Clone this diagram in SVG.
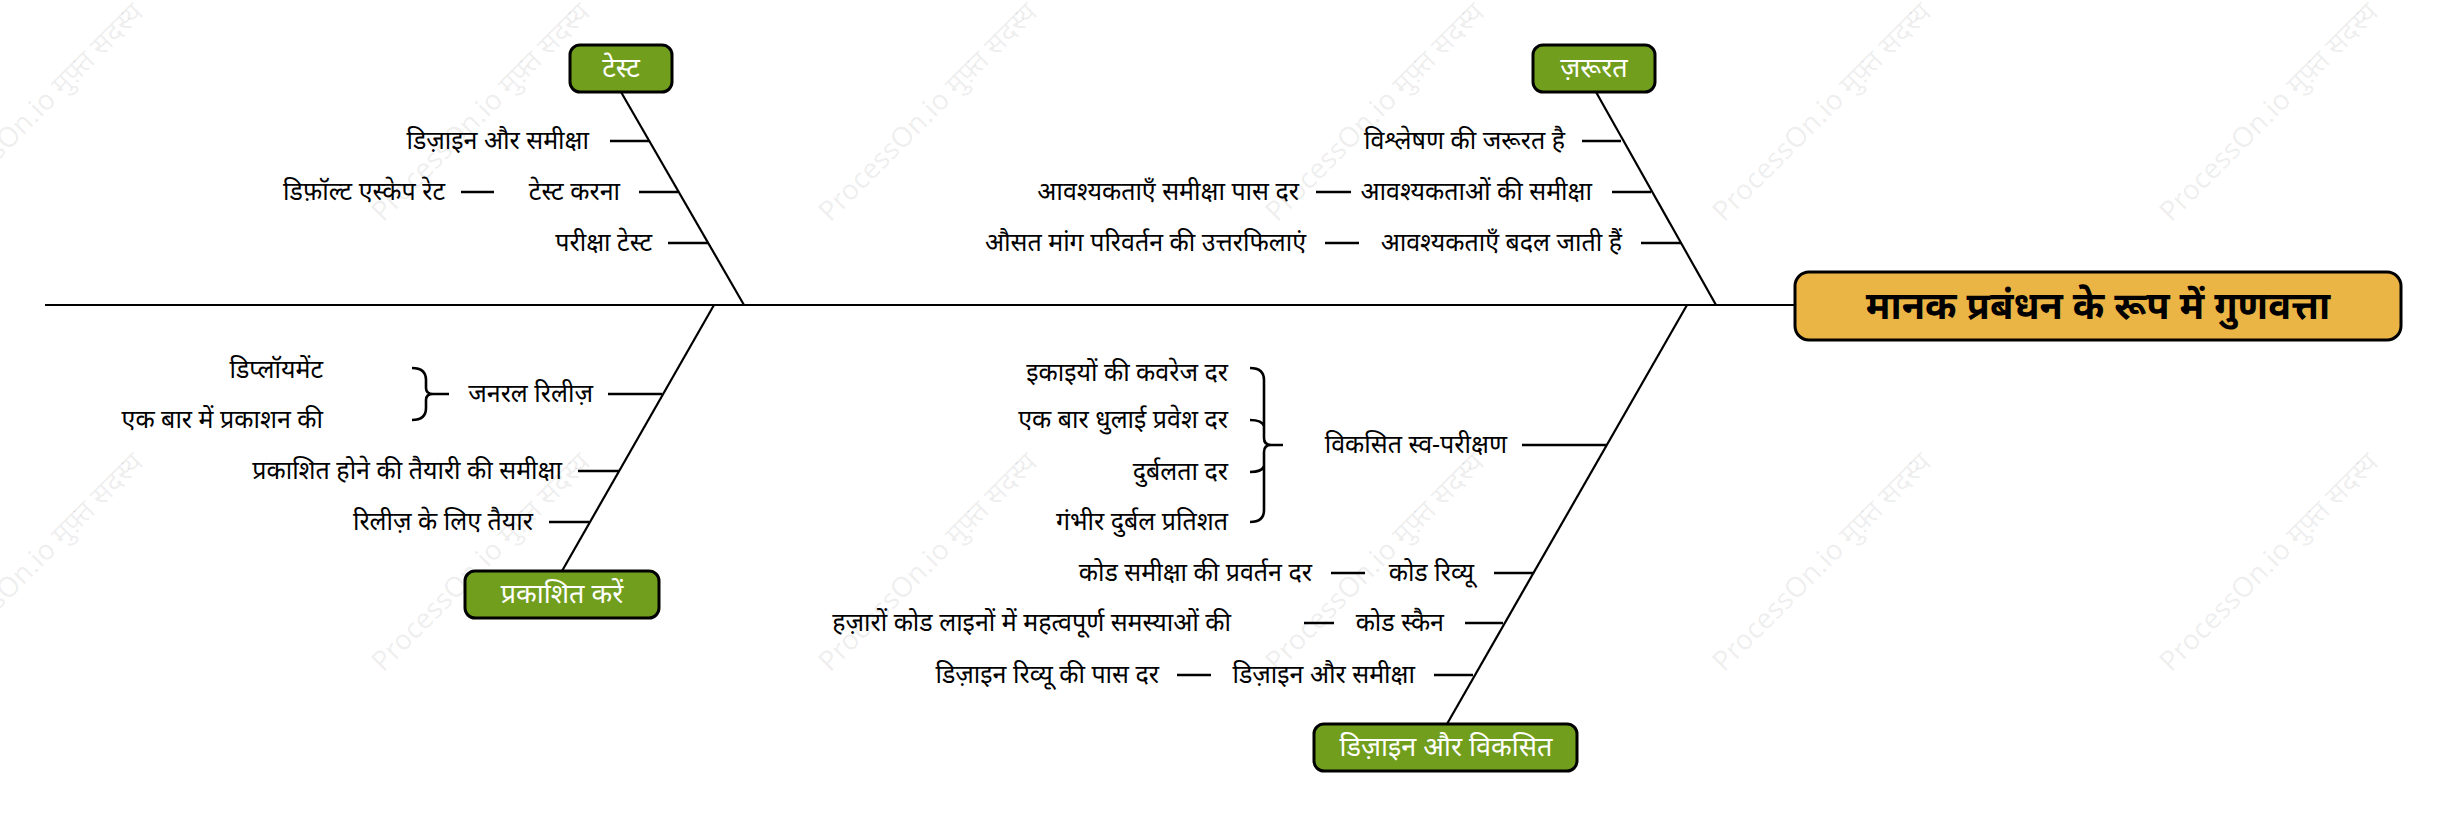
<svg xmlns="http://www.w3.org/2000/svg" width="2447" height="831" viewBox="0 0 2447 831">
<style>
.bg{fill:#ffffff}
.wm{font-family:"Noto Sans","Liberation Sans",sans-serif;font-size:28px;fill:#000;fill-opacity:0.08}
.lbl{font-family:"Noto Sans","Liberation Sans",sans-serif;font-size:25px;fill:#000;text-anchor:end}
.cat{font-family:"Noto Sans","Liberation Sans",sans-serif;font-size:27px;fill:#fff;text-anchor:middle}
.ttl{font-family:"Noto Sans","Liberation Sans",sans-serif;font-size:38px;font-weight:bold;fill:#000;text-anchor:middle}
.gbox{fill:#729E1D;stroke:#000;stroke-width:3}
.obox{fill:#EBB546;stroke:#000;stroke-width:3}
.ln{stroke:#000;stroke-width:2.2;fill:none}
.tk{stroke:#000;stroke-width:2.6;fill:none}
</style>
<rect class="bg" x="0" y="0" width="2447" height="831"/>
<g id="watermarks">
<text class="wm" transform="translate(-64,673) rotate(-45)">ProcessOn.io मुफ़्त सदस्य</text>
<text class="wm" transform="translate(383,673) rotate(-45)">ProcessOn.io मुफ़्त सदस्य</text>
<text class="wm" transform="translate(830,673) rotate(-45)">ProcessOn.io मुफ़्त सदस्य</text>
<text class="wm" transform="translate(1277,673) rotate(-45)">ProcessOn.io मुफ़्त सदस्य</text>
<text class="wm" transform="translate(1724,673) rotate(-45)">ProcessOn.io मुफ़्त सदस्य</text>
<text class="wm" transform="translate(2171,673) rotate(-45)">ProcessOn.io मुफ़्त सदस्य</text>
<text class="wm" transform="translate(-64,223) rotate(-45)">ProcessOn.io मुफ़्त सदस्य</text>
<text class="wm" transform="translate(383,223) rotate(-45)">ProcessOn.io मुफ़्त सदस्य</text>
<text class="wm" transform="translate(830,223) rotate(-45)">ProcessOn.io मुफ़्त सदस्य</text>
<text class="wm" transform="translate(1277,223) rotate(-45)">ProcessOn.io मुफ़्त सदस्य</text>
<text class="wm" transform="translate(1724,223) rotate(-45)">ProcessOn.io मुफ़्त सदस्य</text>
<text class="wm" transform="translate(2171,223) rotate(-45)">ProcessOn.io मुफ़्त सदस्य</text>
</g>
<g id="connectors">
<path class="ln" d="M45,305 L1795,305"/>
<path class="ln" d="M621,92 L744,305"/>
<path class="ln" d="M1596,92 L1716,305"/>
<path class="ln" d="M714,305 L562,571"/>
<path class="ln" d="M1687,305 L1447,724"/>
<path class="tk" d="M610,141 H649 M639,192 H678 M668,243 H708 M461,192 H494"/>
<path class="tk" d="M1582,141 H1621 M1612,192 H1651 M1641,243 H1681 M1316,192 H1351 M1325,243 H1359"/>
<path class="tk" d="M608,394 H662 M578,471 H619 M549,522 H589 M433,394 H449"/>
<path class="tk" d="M412,368 Q426,368 426,380 L426,388 Q426,394 433,394 Q426,394 426,400 L426,408 Q426,420 412,420"/>
<path class="tk" d="M1522,445 H1607 M1494,573 H1533 M1465,623 H1503 M1434,675 H1473 M1331,573 H1365 M1304,623 H1334 M1177,675 H1211 M1271,445 H1283"/>
<path class="tk" d="M1250,368 Q1264,368 1264,380 L1264,438 Q1264,445 1271,445 Q1264,445 1264,452 L1264,510 Q1264,522 1250,522 M1250,420 Q1262,420 1264,426 M1250,472 Q1262,472 1264,466"/>
</g>
<g id="node-title">
<rect class="obox" x="1795" y="272" width="606" height="68" rx="14"/>
<text class="ttl" x="2098" y="319">मानक प्रबंधन के रूप में गुणवत्ता</text>
</g>
<g id="node-test">
<rect class="gbox" x="570" y="45" width="102" height="47" rx="10"/>
<text class="cat" x="621" y="77">टेस्ट</text>
</g>
<g id="node-need">
<rect class="gbox" x="1533" y="45" width="122" height="47" rx="10"/>
<text class="cat" x="1594" y="77">ज़रूरत</text>
</g>
<g id="node-publish">
<rect class="gbox" x="465" y="571" width="194" height="47" rx="10"/>
<text class="cat" x="562" y="603">प्रकाशित करें</text>
</g>
<g id="node-design">
<rect class="gbox" x="1314" y="724" width="263" height="47" rx="10"/>
<text class="cat" x="1446" y="756">डिज़ाइन और विकसित</text>
</g>
<g id="test-items">
<text class="lbl" x="589" y="149">डिज़ाइन और समीक्षा</text>
<text class="lbl" x="620" y="200">टेस्ट करना</text>
<text class="lbl" x="445" y="200">डिफ़ॉल्ट एस्केप रेट</text>
<text class="lbl" x="652" y="251">परीक्षा टेस्ट</text>
</g>
<g id="need-items">
<text class="lbl" x="1565" y="149">विश्लेषण की जरूरत है</text>
<text class="lbl" x="1592" y="200">आवश्यकताओं की समीक्षा</text>
<text class="lbl" x="1299" y="200">आवश्यकताएँ समीक्षा पास दर</text>
<text class="lbl" x="1622" y="251">आवश्यकताएँ बदल जाती हैं</text>
<text class="lbl" x="1306" y="251">औसत मांग परिवर्तन की उत्तरफिलाएं</text>
</g>
<g id="publish-items">
<text class="lbl" x="593" y="402">जनरल रिलीज़</text>
<text class="lbl" x="323" y="378">डिप्लॉयमेंट</text>
<text class="lbl" x="323" y="428">एक बार में प्रकाशन की</text>
<text class="lbl" x="562" y="479">प्रकाशित होने की तैयारी की समीक्षा</text>
<text class="lbl" x="533" y="530">रिलीज़ के लिए तैयार</text>
</g>
<g id="design-items">
<text class="lbl" x="1507" y="453">विकसित स्व-परीक्षण</text>
<text class="lbl" x="1228" y="381">इकाइयों की कवरेज दर</text>
<text class="lbl" x="1228" y="428">एक बार धुलाई प्रवेश दर</text>
<text class="lbl" x="1228" y="480">दुर्बलता दर</text>
<text class="lbl" x="1228" y="530">गंभीर दुर्बल प्रतिशत</text>
<text class="lbl" x="1474" y="581">कोड रिव्यू</text>
<text class="lbl" x="1312" y="581">कोड समीक्षा की प्रवर्तन दर</text>
<text class="lbl" x="1444" y="631">कोड स्कैन</text>
<text class="lbl" x="1231" y="631">हज़ारों कोड लाइनों में महत्वपूर्ण समस्याओं की</text>
<text class="lbl" x="1415" y="683">डिज़ाइन और समीक्षा</text>
<text class="lbl" x="1159" y="683">डिज़ाइन रिव्यू की पास दर</text>
</g>
</svg>
